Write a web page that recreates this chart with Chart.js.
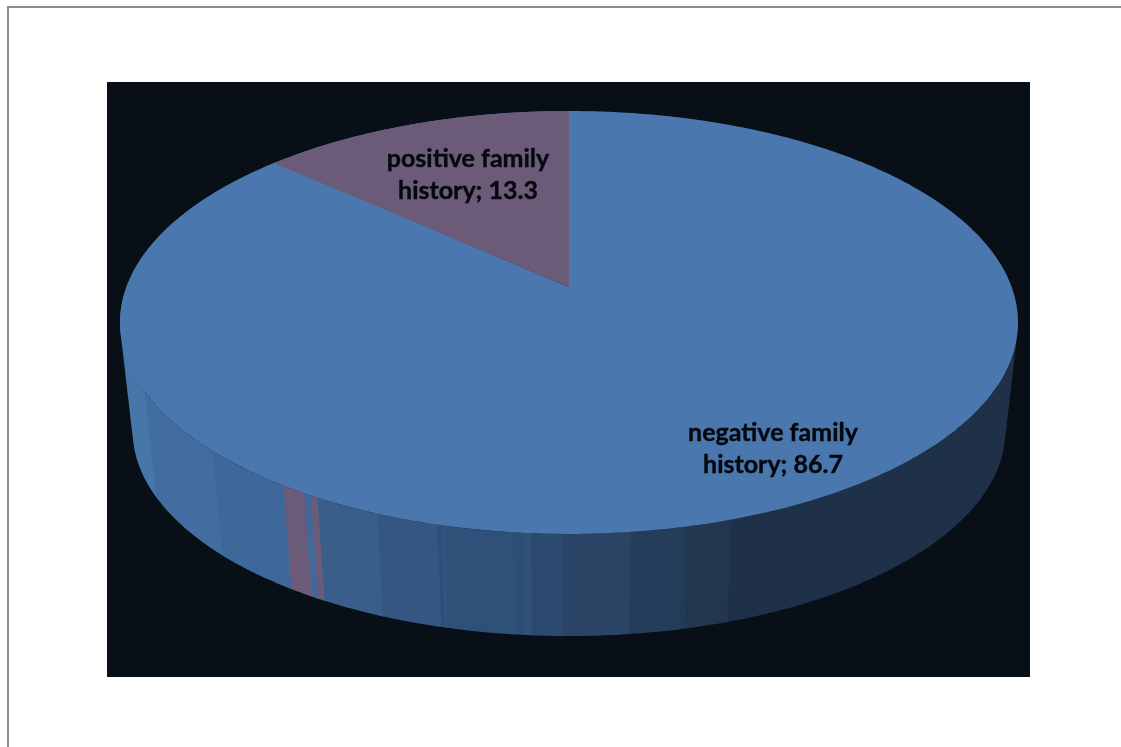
<!DOCTYPE html>
<html>
<head>
<meta charset="utf-8">
<title>Family history</title>
<script src="https://cdn.jsdelivr.net/npm/chart.js@4"></script>
<style>
  html, body { margin: 0; background: #fff; }
  #page { position: relative; width: 1121px; height: 747px; overflow: hidden; }
  #frame { position: absolute; left: 7px; top: 6px; width: 1200px; height: 900px; border: 2px solid #8c8c8c; box-sizing: border-box; }
  #pie { position: absolute; left: 107px; top: 82px; background: #080f16; }
</style>
</head>
<body>
<div id="page">
  <div id="frame"></div>
  <canvas id="pie" width="923" height="595"></canvas>
</div>
<script>
// valores
const categories = ["negative family history", "positive family history"];
const shares = [86.7, 13.3];
const sliceColors = ["#4a77ae", "#6c5b78"];

// faixas da parede lateral (graus, sentido horario a partir do topo)
const wallBands = [162, 4.9, 0.7, 5.7, 7.45, 3.35, 0.8, 1.1, 7.6, 0.4, 0.4, 7, 7.6, 0.9, 0.9, 2.9, 11.5, 16.8, 118];
const wallColors = [
  "#1e3149", "#223650", "#233a56", "#243d5a", "#2a4465", "#2c4a6f", "#2f5077", "#2d4d74", "#2f5078",
  "#31547e", "#2d4f77", "#345681", "#395e8a", "#6c5b78", "#41689a", "#6c5b78", "#3e679a", "#416da0", "#4776a9"
];

// perspectiva do tampo: circulo unitario -> tela
const persp = { cx: 462, cy: 205, a: 442.6, b: 205.5, k: -0.1678 };
// base: mesma elipse reduzida e deslocada para baixo
const base = { scale: 0.972, ex: 462, ey: 240.5, drop: 108 };
// sobreposicao para nao aparecer fundo entre pecas vizinhas
const overlap = 0.004;

const project = (theta) => {
  const u = Math.sin(theta);
  const v = -Math.cos(theta);
  const d = 1 + persp.k * v;
  return { x: persp.cx + persp.a * u / d, y: persp.cy + persp.b * v / d };
};

const projectBase = (theta) => {
  const p = project(theta);
  return {
    x: base.ex + (p.x - base.ex) * base.scale,
    y: base.ey + (p.y - base.ey) * base.scale + base.drop
  };
};

// angulos do Chart.js comecam em -90 graus
const toTheta = (angle) => angle + Math.PI / 2;

const samples = (start, end) => {
  const n = Math.max(2, Math.ceil((end - start) / 0.01));
  const out = [];
  for (let i = 0; i <= n; i++) out.push(start + (end - start) * i / n);
  return out;
};

// quadrilatero sempre com a mesma orientacao, senao o preenchimento se cancela
const addQuad = (ctx, pts) => {
  let area = 0;
  pts.forEach((p, i) => {
    const q = pts[(i + 1) % pts.length];
    area += p.x * q.y - q.x * p.y;
  });
  const ordered = area < 0 ? pts.slice().reverse() : pts;
  ordered.forEach((p, i) => {
    if (i === 0) ctx.moveTo(p.x, p.y); else ctx.lineTo(p.x, p.y);
  });
  ctx.closePath();
};

const pie3d = {
  id: "pie3d",
  beforeDatasetsDraw(chart) {
    const ctx = chart.ctx;
    ctx.save();

    // parede lateral
    chart.getDatasetMeta(1).data.forEach((arc, i) => {
      const angles = samples(toTheta(arc.startAngle), toTheta(arc.endAngle) + overlap);
      ctx.beginPath();
      for (let j = 0; j < angles.length - 1; j++) {
        addQuad(ctx, [project(angles[j]), project(angles[j + 1]), projectBase(angles[j + 1]), projectBase(angles[j])]);
      }
      ctx.fillStyle = wallColors[i];
      ctx.fill();
    });

    // tampo: a primeira fatia passa um pouco por baixo da segunda
    chart.getDatasetMeta(0).data.forEach((arc, i) => {
      const ext = i === 0 ? overlap : 0;
      ctx.beginPath();
      ctx.moveTo(persp.cx, persp.cy);
      samples(toTheta(arc.startAngle) - ext, toTheta(arc.endAngle) + ext).forEach((t) => {
        const p = project(t);
        ctx.lineTo(p.x, p.y);
      });
      ctx.closePath();
      ctx.fillStyle = sliceColors[i];
      ctx.fill();
    });

    ctx.restore();
    return false;
  },
  afterDraw(chart) {
    const ctx = chart.ctx;
    const labelCenters = [[666, 351], [361, 77]];
    ctx.save();
    ctx.font = "bold 25px Lato";
    ctx.fillStyle = "#05090e";
    ctx.strokeStyle = "#05090e";
    ctx.lineWidth = 0.4;
    ctx.textAlign = "center";
    ctx.textBaseline = "middle";
    categories.forEach((name, i) => {
      const [x, y] = labelCenters[i];
      const first = name.replace(" history", "");
      const second = "history; " + shares[i];
      ctx.fillText(first, x, y);
      ctx.strokeText(first, x, y);
      ctx.fillText(second, x, y + 32);
      ctx.strokeText(second, x, y + 32);
    });
    ctx.restore();
  }
};

new Chart(document.getElementById("pie").getContext("2d"), {
  type: "pie",
  data: {
    labels: categories,
    datasets: [
      { data: shares, backgroundColor: sliceColors },
      { data: wallBands, backgroundColor: wallColors }
    ]
  },
  options: {
    responsive: false,
    animation: false,
    events: [],
    plugins: {
      legend: { display: false },
      tooltip: { enabled: false }
    }
  },
  plugins: [pie3d]
});
</script>
</body>
</html>
